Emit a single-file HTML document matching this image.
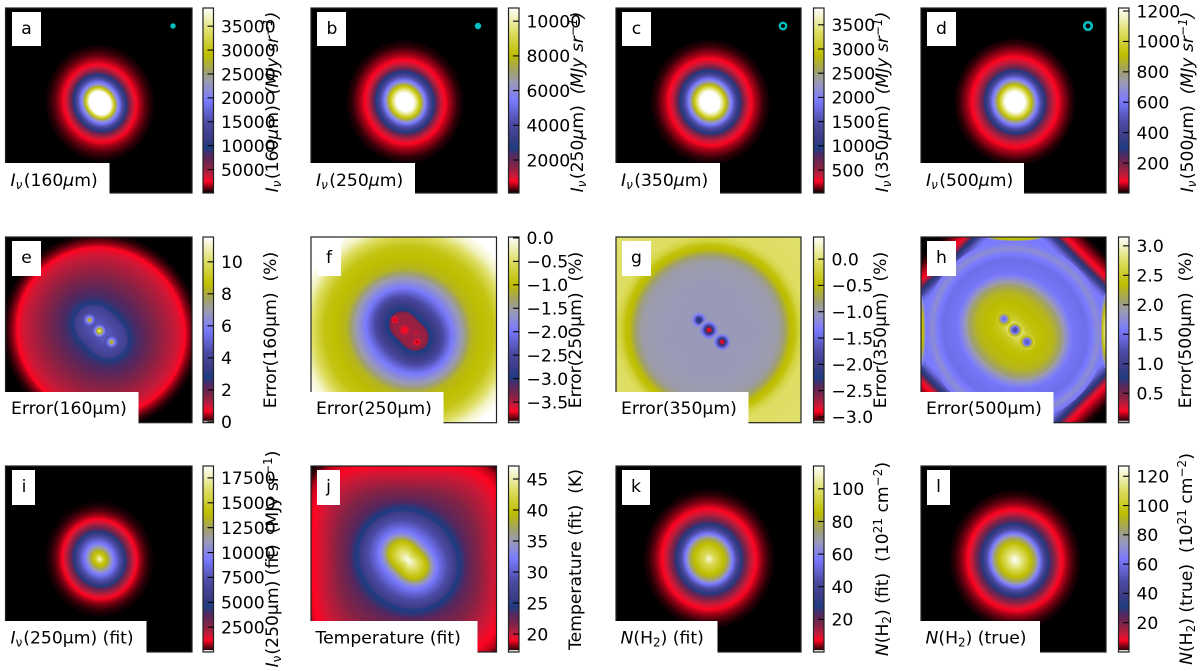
<!DOCTYPE html>
<html lang="en">
<head>
<meta charset="utf-8">
<title>Intensity, error and column density maps</title>
<style>
html,body{margin:0;padding:0;background:#fff;width:1200px;height:671px;overflow:hidden}
svg{display:block}
text{font-family:"DejaVu Sans","Liberation Sans",sans-serif;font-size:17.2px;fill:#000}
.tick{font-size:17.2px}
.frame{fill:none;stroke:#222;stroke-width:1.2}
.box{fill:#fff}
.i{font-style:italic}
</style>
</head>
<body>
<svg id="figure" xmlns="http://www.w3.org/2000/svg" width="1200" height="671" viewBox="0 0 1200 671">
<defs><linearGradient id="cmap" x1="0" y1="1" x2="0" y2="0"></linearGradient></defs>

<!-- ROW 1 -->
<g>
<svg id="map-a" x="5.5" y="8" width="186.5" height="185"></svg>
<rect class="frame" x="5.5" y="8" width="186.5" height="185"/>
<circle cx="173" cy="26" r="2.7" fill="#00bfbf"/>
<rect class="box" x="12" y="12" width="29" height="34"/>
<text x="26.5" y="34" text-anchor="middle">a</text>
<rect class="box" x="4.5" y="163" width="105" height="31"/>
<text x="10.5" y="186"><tspan class="i">I</tspan><tspan class="i" font-size="12" dy="3">ν</tspan><tspan dx="1.5" dy="-3">(160</tspan><tspan class="i">μ</tspan>m)</text>
<g id="cbar-a"></g>
<text transform="translate(278 102) rotate(-90)" text-anchor="middle"><tspan class="i">I</tspan><tspan class="i" font-size="12" dy="3">ν</tspan><tspan dx="1.5" dy="-3">(160</tspan><tspan class="i">μ</tspan>m)&#160;&#160;<tspan class="i">(MJy sr</tspan><tspan class="i" font-size="12" dy="-6">−1</tspan><tspan class="i" dy="6">)</tspan></text>
</g>

<g>
<svg id="map-b" x="311" y="8" width="186" height="185"></svg>
<rect class="frame" x="311" y="8" width="186" height="185"/>
<circle cx="478" cy="26" r="3.2" fill="#00bfbf"/>
<rect class="box" x="317" y="12" width="29" height="34"/>
<text x="332" y="34" text-anchor="middle">b</text>
<rect class="box" x="310" y="163" width="105" height="31"/>
<text x="316" y="186"><tspan class="i">I</tspan><tspan class="i" font-size="12" dy="3">ν</tspan><tspan dx="1.5" dy="-3">(250</tspan><tspan class="i">μ</tspan>m)</text>
<g id="cbar-b"></g>
<text transform="translate(583 102) rotate(-90)" text-anchor="middle"><tspan class="i">I</tspan><tspan class="i" font-size="12" dy="3">ν</tspan><tspan dx="1.5" dy="-3">(250</tspan><tspan class="i">μ</tspan>m)&#160;&#160;<tspan class="i">(MJy sr</tspan><tspan class="i" font-size="12" dy="-6">−1</tspan><tspan class="i" dy="6">)</tspan></text>
</g>

<g>
<svg id="map-c" x="616" y="8" width="185" height="185"></svg>
<rect class="frame" x="616" y="8" width="185" height="185"/>
<circle cx="783" cy="26" r="3.2" fill="none" stroke="#00bfbf" stroke-width="2.3"/>
<rect class="box" x="622" y="12" width="29" height="34"/>
<text x="636.5" y="34" text-anchor="middle">c</text>
<rect class="box" x="615" y="163" width="105" height="31"/>
<text x="621" y="186"><tspan class="i">I</tspan><tspan class="i" font-size="12" dy="3">ν</tspan><tspan dx="1.5" dy="-3">(350</tspan><tspan class="i">μ</tspan>m)</text>
<g id="cbar-c"></g>
<text transform="translate(888 102) rotate(-90)" text-anchor="middle"><tspan class="i">I</tspan><tspan class="i" font-size="12" dy="3">ν</tspan><tspan dx="1.5" dy="-3">(350</tspan><tspan class="i">μ</tspan>m)&#160;&#160;<tspan class="i">(MJy sr</tspan><tspan class="i" font-size="12" dy="-6">−1</tspan><tspan class="i" dy="6">)</tspan></text>
</g>

<g>
<svg id="map-d" x="921" y="8" width="185" height="185"></svg>
<rect class="frame" x="921" y="8" width="185" height="185"/>
<circle cx="1088" cy="26" r="3.8" fill="none" stroke="#00bfbf" stroke-width="2.7"/>
<rect class="box" x="927" y="12" width="29" height="34"/>
<text x="941.5" y="34" text-anchor="middle">d</text>
<rect class="box" x="920" y="163" width="104" height="31"/>
<text x="926" y="186"><tspan class="i">I</tspan><tspan class="i" font-size="12" dy="3">ν</tspan><tspan dx="1.5" dy="-3">(500</tspan><tspan class="i">μ</tspan>m)</text>
<g id="cbar-d"></g>
<text transform="translate(1193 102) rotate(-90)" text-anchor="middle"><tspan class="i">I</tspan><tspan class="i" font-size="12" dy="3">ν</tspan><tspan dx="1.5" dy="-3">(500</tspan><tspan class="i">μ</tspan>m)&#160;&#160;<tspan class="i">(MJy sr</tspan><tspan class="i" font-size="12" dy="-6">−1</tspan><tspan class="i" dy="6">)</tspan></text>
</g>

<!-- ROW 2 -->
<g>
<svg id="map-e" x="5.5" y="237" width="186.5" height="185.7"></svg>
<rect class="frame" x="5.5" y="237" width="186.5" height="185.7"/>
<rect class="box" x="12" y="241" width="29" height="35"/>
<text x="26.5" y="263" text-anchor="middle">e</text>
<rect class="box" x="4.5" y="392" width="134" height="32"/>
<text x="11" y="414">Error(160μm)</text>
<g id="cbar-e"></g>
<text transform="translate(276 330) rotate(-90)" text-anchor="middle">Error(160μm)&#160;&#160;(%)</text>
</g>

<g>
<svg id="map-f" x="311" y="237" width="185.5" height="185.7"></svg>
<rect class="frame" x="311" y="237" width="185.5" height="185.7"/>
<rect class="box" x="317" y="241" width="24" height="35"/>
<text x="329" y="263" text-anchor="middle">f</text>
<rect class="box" x="310" y="392" width="133.5" height="32"/>
<text x="316" y="414">Error(250μm)</text>
<g id="cbar-f"></g>
<text transform="translate(581 330) rotate(-90)" text-anchor="middle">Error(250μm)&#160;&#160;(%)</text>
</g>

<g>
<svg id="map-g" x="616" y="237" width="185" height="185.7"></svg>
<rect class="frame" x="616" y="237" width="185" height="185.7"/>
<rect class="box" x="622" y="241" width="29" height="35"/>
<text x="636.5" y="263" text-anchor="middle">g</text>
<rect class="box" x="615" y="392" width="133.5" height="32"/>
<text x="621" y="414">Error(350μm)</text>
<g id="cbar-g"></g>
<text transform="translate(886 330) rotate(-90)" text-anchor="middle">Error(350μm)&#160;&#160;(%)</text>
</g>

<g>
<svg id="map-h" x="921" y="237" width="185" height="185.7"></svg>
<rect class="frame" x="921" y="237" width="185" height="185.7"/>
<rect class="box" x="927" y="241" width="29" height="35"/>
<text x="941.5" y="263" text-anchor="middle">h</text>
<rect class="box" x="920" y="392" width="133.5" height="32"/>
<text x="926" y="414">Error(500μm)</text>
<g id="cbar-h"></g>
<text transform="translate(1191 330) rotate(-90)" text-anchor="middle">Error(500μm)&#160;&#160;(%)</text>
</g>

<!-- ROW 3 -->
<g>
<svg id="map-i" x="5.5" y="466" width="186.5" height="186"></svg>
<rect class="frame" x="5.5" y="466" width="186.5" height="186"/>
<rect class="box" x="12" y="470" width="23" height="35"/>
<text x="24" y="492" text-anchor="middle">i</text>
<rect class="box" x="4.5" y="621" width="142" height="32"/>
<text x="10.5" y="643.5"><tspan class="i">I</tspan><tspan font-size="12" dy="3">ν</tspan><tspan dx="1" dy="-3">(250μm) (fit)</tspan></text>
<g id="cbar-i"></g>
<text transform="translate(278 559) rotate(-90)" text-anchor="middle"><tspan class="i">I</tspan><tspan font-size="12" dy="3">ν</tspan><tspan dx="1" dy="-3">(250μm) (fit)&#160;&#160;(MJy sr</tspan><tspan font-size="12" dy="-6">−1</tspan><tspan dy="6">)</tspan></text>
</g>

<g>
<svg id="map-j" x="311" y="466" width="185.5" height="186"></svg>
<rect class="frame" x="311" y="466" width="185.5" height="186"/>
<rect class="box" x="317" y="470" width="23" height="35"/>
<text x="328.5" y="492" text-anchor="middle">j</text>
<rect class="box" x="310" y="621" width="167.5" height="32"/>
<text x="315.5" y="643.5">Temperature (fit)</text>
<g id="cbar-j"></g>
<text transform="translate(581 559.5) rotate(-90)" text-anchor="middle">Temperature (fit)&#160;&#160;(K)</text>
</g>

<g>
<svg id="map-k" x="616" y="466" width="185" height="186"></svg>
<rect class="frame" x="616" y="466" width="185" height="186"/>
<rect class="box" x="622" y="470" width="28" height="35"/>
<text x="636" y="492" text-anchor="middle">k</text>
<rect class="box" x="615" y="621" width="102.5" height="32"/>
<text x="620.5" y="643.5"><tspan class="i">N</tspan>(H<tspan font-size="12" dy="3">2</tspan><tspan dy="-3">) (fit)</tspan></text>
<g id="cbar-k"></g>
<text transform="translate(888 559) rotate(-90)" text-anchor="middle"><tspan class="i">N</tspan>(H<tspan font-size="12" dy="3">2</tspan><tspan dy="-3">) (fit)&#160;&#160;(10</tspan><tspan font-size="12" dy="-6">21</tspan><tspan dy="6"> cm</tspan><tspan font-size="12" dy="-6">−2</tspan><tspan dy="6">)</tspan></text>
</g>

<g>
<svg id="map-l" x="921" y="466" width="185" height="186"></svg>
<rect class="frame" x="921" y="466" width="185" height="186"/>
<rect class="box" x="927" y="470" width="23" height="35"/>
<text x="938.5" y="492" text-anchor="middle">l</text>
<rect class="box" x="920" y="621" width="120" height="32"/>
<text x="925.5" y="643.5"><tspan class="i">N</tspan>(H<tspan font-size="12" dy="3">2</tspan><tspan dy="-3">) (true)</tspan></text>
<g id="cbar-l"></g>
<text transform="translate(1192 559) rotate(-90)" text-anchor="middle"><tspan class="i">N</tspan>(H<tspan font-size="12" dy="3">2</tspan><tspan dy="-3">) (true)&#160;&#160;(10</tspan><tspan font-size="12" dy="-6">21</tspan><tspan dy="6"> cm</tspan><tspan font-size="12" dy="-6">−2</tspan><tspan dy="6">)</tspan></text>
</g>
</svg>

<script>
/* colour map */
const cmapFractions = [0, .015, .063, .09, .144, .2, .243, .3, .38, .5, .6, .656, .746, .87, 1];
const cmapReds   = [0, 60, 255, 205, 130, 85, 30, 60, 75, 122, 155, 160, 190, 222, 255];
const cmapGreens = [0, 0, 5, 25, 35, 40, 60, 60, 75, 122, 155, 160, 190, 222, 255];
const cmapBlues  = [0, 10, 35, 55, 70, 95, 130, 135, 165, 255, 180, 110, 0, 100, 255];

/* colour bar limits */
const limitsA = [100, 38800];
const limitsB = [100, 10760];
const limitsC = [25, 3847];
const limitsD = [3, 1220];
const limitsE = [-0.05, 11.55];
const limitsF = [-3.94, 0.02];
const limitsG = [-3.11, 0.42];
const limitsH = [0, 3.15];
const limitsI = [0, 18700];
const limitsJ = [17.1, 47.1];
const limitsK = [0, 114];
const limitsL = [0, 127];

/* colour bar ticks */
const ticksA = [5000, 10000, 15000, 20000, 25000, 30000, 35000];
const ticksB = [2000, 4000, 6000, 8000, 10000];
const ticksC = [500, 1000, 1500, 2000, 2500, 3000, 3500];
const ticksD = [200, 400, 600, 800, 1000, 1200];
const ticksE = [0, 2, 4, 6, 8, 10];
const ticksF = [-3.5, -3, -2.5, -2, -1.5, -1, -0.5, 0];
const ticksG = [-3, -2.5, -2, -1.5, -1, -0.5, 0];
const ticksH = [0.5, 1, 1.5, 2, 2.5, 3];
const ticksI = [2500, 5000, 7500, 10000, 12500, 15000, 17500];
const ticksJ = [20, 25, 30, 35, 40, 45];
const ticksK = [20, 40, 60, 80, 100];
const ticksL = [20, 40, 60, 80, 100, 120];

/* radial brightness profiles: distance from the core (map px) and value in the panel's unit */
const radiiA = [0, 11, 13, 15, 17, 20, 25, 27, 30, 33, 37, 41, 45, 50, 56];
const valuesA = [38800, 38800, 34156, 29125, 23320, 18676, 11710, 9000, 5905, 3970, 2422, 1648, 1050, 500, 100];
const radiiB = [0, 9, 12, 14, 16.5, 19, 23, 29, 32, 36, 40, 44, 48, 53, 60];
const valuesB = [10760, 10760, 9694, 8841, 7775, 6283, 4684, 2765, 1912, 1166, 793, 580, 420, 230, 100];
const radiiC = [0, 10, 13, 15, 17, 20, 24, 30, 33, 37, 41.5, 45, 49, 54, 61];
const valuesC = [3847, 3847, 3465, 3159, 2777, 2242, 1668, 980, 675, 407, 273, 197, 140, 72, 25];
const radiiD = [0, 10, 13, 17, 20, 24, 30, 33, 38, 43, 47, 51, 56, 62];
const valuesD = [1220, 1220, 1098, 904, 733, 551, 307, 210, 125, 82, 58, 40, 18, 3];
const radiiE = [0, 5, 15, 24, 26, 28, 35, 40, 48, 55, 65, 75, 80, 84, 87, 90, 95, 100];
const valuesE = [5.05, 4.82, 4.36, 3.78, 3.08, 2.73, 2.39, 2.27, 1.92, 1.63, 1.34, 1.05, 0.88, 0.7, 0.47, 0.3, 0.07, -0.05];
const radiiF = [0, 15, 18, 19, 21, 30, 43, 55, 63, 75, 85, 95, 105, 115, 140];
const valuesF = [-3.46, -3.43, -3.35, -2.99, -2.95, -2.63, -1.96, -1.48, -1.09, -0.97, -0.89, -0.57, -0.18, 0.02, 0.02];
const radiiG = [0, 50, 68, 73, 77, 81, 85, 90, 96, 140];
const valuesG = [-1.02, -1, -0.96, -0.86, -0.7, -0.5, -0.43, -0.18, -0.04, 0];
const radiiH = [0, 8, 12, 20, 30, 38, 46, 52, 58, 72, 78, 83, 87, 90];
const valuesH = [2.77, 2.68, 2.52, 2.39, 2.33, 2.27, 2.05, 1.76, 1.54, 1.48, 1.6, 1.76, 1.64, 1.58];
const radiiI = [0, 2, 5, 8, 11, 15, 20, 24, 26, 29, 33, 37, 41, 45, 50, 56];
const valuesI = [18700, 16830, 14590, 13460, 11590, 9350, 7480, 5610, 4490, 3180, 2060, 1215, 750, 410, 150, 0];
const radiiJ = [0, 3, 8, 12, 18, 21, 25, 30, 40, 48, 50, 60, 70, 85, 100, 112, 122, 128, 135];
const valuesJ = [47.1, 45.6, 43.5, 41.7, 39.3, 36.9, 33.6, 31.5, 28.5, 26.1, 24.6, 23.1, 22.05, 20.85, 19.8, 19.05, 18.45, 17.55, 17.1];
const radiiK = [0, 2, 6, 12, 17, 20, 24, 28, 31, 33, 37, 42, 47, 51, 55, 61, 67];
const valuesK = [114, 106, 97, 89, 82, 74, 57, 43, 34, 27, 19, 11.4, 7.4, 5.1, 3.2, 1.1, 0];
const radiiL = [0, 3, 8, 13, 18, 21, 25, 29, 32, 34, 38, 43, 47, 51, 55, 61, 67];
const valuesL = [127, 122, 112, 102, 91, 83, 64, 48, 38, 30, 22, 12.7, 8.3, 5.7, 3.6, 1.3, 0];

/* compact source residuals */
const spotRadiiE1 = [0, 1.5, 3, 5, 7];
const spotValuesE1 = [9, 8.2, 6.5, 5, 4.4];
const spotRadiiE2 = [0, 1.5, 3, 5, 7];
const spotValuesE2 = [11.5, 10, 8, 6, 4.6];
const spotRadiiF1 = [0, 1.5, 3, 4.5];
const spotValuesF1 = [-3.94, -3.7, -3.62, -3.42];
const spotRadiiF2 = [0, 3, 6];
const spotValuesF2 = [-3.7, -3.66, -3.46];
const spotRadiiF3 = [0, 2, 4];
const spotValuesF3 = [-3.86, -3.7, -3.54];
const spotRadiiF4 = [0, 3];
const spotValuesF4 = [-3.66, -3.46];
const spotRadiiG1 = [0, 2.5, 4, 6, 8.5];
const spotValuesG1 = [-2.33, -2.16, -1.7, -1.27, -1.02];
const spotRadiiG2 = [0, 2, 3.5, 5, 7, 10];
const spotValuesG2 = [-3, -2.86, -2.4, -1.87, -1.42, -1.02];
const spotRadiiG3 = [0, 2, 3.5, 5, 7, 9];
const spotValuesG3 = [-3, -2.83, -2.23, -1.77, -1.35, -1.02];
const spotRadiiH1 = [0, 2.5, 4, 6, 7.5];
const spotValuesH1 = [1.45, 1.58, 1.89, 2.4, 2.5];
const spotRadiiH2 = [0, 3, 4.5, 6, 8];
const spotValuesH2 = [1.13, 1.32, 1.73, 2.27, 2.77];
const spotRadiiH3 = [0, 3, 4.5, 6, 8];
const spotValuesH3 = [1.32, 1.42, 1.83, 2.4, 2.6];

/* panel h outer structure */
const cornerDistancesH = [85, 90, 95, 100, 103, 108, 115, 120, 135];
const cornerValuesH = [1.58, 1.32, 0.79, 0.32, 0.2, 0.13, 0.03, 0, 0];
const edgeRadiiLeftH = [0, 20, 30, 36];
const edgeValuesLeftH = [2.46, 2.33, 1.89, 1.58];
const edgeRadiiRightH = [0, 20, 30, 38];
const edgeValuesRightH = [3, 2.52, 2.05, 1.58];
const edgeRadiiTopH = [0, 22, 30];
const edgeValuesTopH = [2.46, 2.33, 1.58];

const round = {cx:94, cy:94, sx:1, sy:1, e:0, eR:30, pIn:2, pOut:2, p0:0, p1:1};
function shapeOf(over){ return Object.assign({}, round, over); }

const panels = [
 {id:'a', left:5.5,  top:8,  w:186.5, h:185, limits:limitsA, ticks:ticksA, radii:radiiA, values:valuesA, shape:shapeOf({cx:94.5,cy:95,sy:1.07,e:.13,eR:25}), dec:0, tip:null},
 {id:'b', left:311,  top:8,  w:186, h:185, limits:limitsB, ticks:ticksB, radii:radiiB, values:valuesB, shape:shapeOf({cx:94,cy:94,sy:1.05,e:.08,eR:25}), dec:0, tip:null},
 {id:'c', left:616,  top:8,  w:185, h:185, limits:limitsC, ticks:ticksC, radii:radiiC, values:valuesC, shape:shapeOf({cx:94,cy:94,sy:1.05,e:.06,eR:25}), dec:0, tip:null},
 {id:'d', left:921,  top:8,  w:185, h:185, limits:limitsD, ticks:ticksD, radii:radiiD, values:valuesD, shape:shapeOf({cx:94,cy:94,sy:1.05,e:.04,eR:25}), dec:0, tip:null},
 {id:'e', left:5.5,  top:237,w:186.5,h:185.7,limits:limitsE, ticks:ticksE, radii:radiiE, values:valuesE, shape:shapeOf({cx:95.5,cy:94.5,e:.5,eR:25}), dec:0, tip:'#aaa'},
 {id:'f', left:311,  top:237,w:185.5,h:185.7,limits:limitsF, ticks:ticksF, radii:radiiF, values:valuesF, shape:shapeOf({cx:98,cy:94,e:.6,eR:20}), dec:1, tip:'#aaa'},
 {id:'g', left:616,  top:237,w:185,h:185.7,limits:limitsG, ticks:ticksG, radii:radiiG, values:valuesG, shape:shapeOf({cx:94,cy:93}), dec:1, tip:'#aaa'},
 {id:'h', left:921,  top:237,w:185,h:185.7,limits:limitsH, ticks:ticksH, radii:radiiH, values:valuesH, shape:shapeOf({cx:94,cy:94,e:.5,eR:25}), dec:1, tip:'#aaa'},
 {id:'i', left:5.5,  top:466,w:186.5,h:186,limits:limitsI, ticks:ticksI, radii:radiiI, values:valuesI, shape:shapeOf({cx:94,cy:93,sy:1.07,e:.08,eR:25}), dec:0, tip:'#ddd'},
 {id:'j', left:311,  top:466,w:185.5,h:186,limits:limitsJ, ticks:ticksJ, radii:radiiJ, values:valuesJ, shape:shapeOf({cx:97,cy:94,e:.5,eR:22,pOut:4,p0:55,p1:110}), dec:0, tip:'#ddd'},
 {id:'k', left:616,  top:466,w:185,h:186,limits:limitsK, ticks:ticksK, radii:radiiK, values:valuesK, shape:shapeOf({cx:93,cy:93,sy:1.07,e:.05,eR:25}), dec:0, tip:'#ddd'},
 {id:'l', left:921,  top:466,w:185,h:186,limits:limitsL, ticks:ticksL, radii:radiiL, values:valuesL, shape:shapeOf({cx:94,cy:94,sy:1.07,e:.08,eR:25}), dec:0, tip:'#ddd'}
];

const NS = 'http://www.w3.org/2000/svg';
const COLORBAR_OFFSET = 197.5, COLORBAR_WIDTH = 10.5;

function interpolate(xs, ys, x){
  if (x <= xs[0]) return ys[0];
  for (let i = 1; i < xs.length; i++){
    if (x <= xs[i]){
      const f = (x - xs[i-1]) / (xs[i] - xs[i-1]);
      return ys[i-1] + f * (ys[i] - ys[i-1]);
    }
  }
  return ys[ys.length-1];
}
function colorFor(value, limits){
  const t = Math.max(0, Math.min(1, (value - limits[0]) / (limits[1] - limits[0])));
  const r = interpolate(cmapFractions, cmapReds, t);
  const g = interpolate(cmapFractions, cmapGreens, t);
  const b = interpolate(cmapFractions, cmapBlues, t);
  return 'rgb(' + Math.round(r) + ',' + Math.round(g) + ',' + Math.round(b) + ')';
}
function contourPoints(shape, r){
  const n = 72, pts = [];
  const span = Math.max(0, Math.min(1, (r - shape.p0) / (shape.p1 - shape.p0)));
  const p = shape.pIn + (shape.pOut - shape.pIn) * span;
  const big = r * Math.pow(2 * Math.pow(Math.SQRT1_2, p), 1 / p);
  for (let i = 0; i < n; i++){
    const a = 2 * Math.PI * i / n;
    const c = Math.cos(a), s = Math.sin(a);
    const base = big / Math.pow(Math.pow(Math.abs(c), p) + Math.pow(Math.abs(s), p), 1 / p);
    const stretch = 1 + shape.e * Math.exp(-r / shape.eR) * Math.cos(2 * (a - Math.PI / 4));
    pts.push((shape.cx + shape.sx * base * stretch * c).toFixed(1) + ',' + (shape.cy + shape.sy * base * stretch * s).toFixed(1));
  }
  return pts.join(' ');
}
/* paints nested iso-value contours, outermost first */
function drawContours(host, radii, values, limits, shape, name){
  const step = 0.75;
  const rMax = radii[radii.length - 1];
  for (let r = rMax; r > 0; r -= step){
    const el = document.createElementNS(NS, 'polygon');
    
    
    el.setAttribute('points', contourPoints(shape, r));
    el.setAttribute('fill', colorFor(interpolate(radii, values, r), limits));
    host.appendChild(el);
  }
}
function addBackground(host, color, id){
  const el = document.createElementNS(NS, 'rect');
  
  
  el.setAttribute('width', '200');
  el.setAttribute('height', '200');
  el.setAttribute('fill', color);
  host.appendChild(el);
}
function tickText(v, dec){
  const s = dec ? Math.abs(v).toFixed(dec) : String(Math.abs(v));
  return (v < 0 ? '\u2212' : '') + s;
}
function drawColorbar(p){
  const host = document.getElementById('cbar-' + p.id);
  const x = p.left + COLORBAR_OFFSET, y = p.top, h = p.h;
  const bar = document.createElementNS(NS, 'rect');
  
  
  bar.setAttribute('x', x);
  bar.setAttribute('y', y);
  bar.setAttribute('width', COLORBAR_WIDTH);
  bar.setAttribute('height', h);
  bar.setAttribute('fill', 'url(#cmap)');
  host.appendChild(bar);
  if (p.tip){
    const tip = document.createElementNS(NS, 'rect');
    
    
    tip.setAttribute('x', x);
    tip.setAttribute('y', y + h - 2);
    tip.setAttribute('width', COLORBAR_WIDTH);
    tip.setAttribute('height', 2);
    tip.setAttribute('fill', p.tip);
    host.appendChild(tip);
  }
  const border = document.createElementNS(NS, 'rect');
  
  
  border.setAttribute('class', 'frame');
  border.setAttribute('x', x);
  border.setAttribute('y', y);
  border.setAttribute('width', COLORBAR_WIDTH);
  border.setAttribute('height', h);
  host.appendChild(border);
  const yOf = v => y + h - (v - p.limits[0]) / (p.limits[1] - p.limits[0]) * h;
  p.ticks.forEach(v => {
    const ty = yOf(v);
    const tick = document.createElementNS(NS, 'line');
    
    
    tick.setAttribute('x1', x + COLORBAR_WIDTH - 6);
    tick.setAttribute('x2', x + COLORBAR_WIDTH);
    tick.setAttribute('y1', ty);
    tick.setAttribute('y2', ty);
    tick.setAttribute('stroke', '#000');
    tick.setAttribute('stroke-width', '1.1');
    host.appendChild(tick);
    const label = document.createElementNS(NS, 'text');
    
    
    label.setAttribute('class', 'tick');
    label.setAttribute('x', x + COLORBAR_WIDTH + 7.5);
    label.setAttribute('y', ty + 6.3);
    label.textContent = tickText(v, p.dec);
    host.appendChild(label);
  });
}

/* shared colour ramp for the colour bars */
const ramp = document.getElementById('cmap');
cmapFractions.forEach((f, i) => {
  const stop = document.createElementNS(NS, 'stop');
  stop.setAttribute('offset', f);
  stop.setAttribute('stop-color', 'rgb(' + cmapReds[i] + ',' + cmapGreens[i] + ',' + cmapBlues[i] + ')');
  ramp.appendChild(stop);
});

panels.forEach(p => {
  const host = document.getElementById('map-' + p.id);
  if (p.id === 'h'){
    addBackground(host, colorFor(0, p.limits), p.id);
    drawContours(host, cornerDistancesH, cornerValuesH, p.limits, shapeOf({cx:94,cy:94,pIn:1,pOut:1}), 'map-h-corner');
    /* the contour loop stops at the innermost listed distance; fill inside it */
    drawContours(host, [0, 85], [1.58, 1.58], p.limits, shapeOf({cx:94,cy:94,pIn:1,pOut:1}), 'map-h-corner-fill');
    drawContours(host, p.radii, p.values, p.limits, p.shape, 'map-h');
    drawContours(host, edgeRadiiLeftH, edgeValuesLeftH, p.limits, shapeOf({cx:0,cy:94,sx:.13}), 'map-h-left-edge');
    drawContours(host, edgeRadiiRightH, edgeValuesRightH, p.limits, shapeOf({cx:185,cy:94,sx:.15}), 'map-h-right-edge');
    drawContours(host, edgeRadiiTopH, edgeValuesTopH, p.limits, shapeOf({cx:94,cy:0,sy:.14}), 'map-h-top-edge');
    drawContours(host, edgeRadiiTopH, edgeValuesTopH, p.limits, shapeOf({cx:94,cy:186,sy:.14}), 'map-h-bottom-edge');
  } else {
    addBackground(host, colorFor(p.values[p.values.length - 1], p.limits), p.id);
    drawContours(host, p.radii, p.values, p.limits, p.shape, 'map-' + p.id);
  }
  drawColorbar(p);
});

/* compact spots on top of the error maps */
const limE = limitsE, limF = limitsF, limG = limitsG, limH = limitsH;
const mapE = document.getElementById('map-e');
drawContours(mapE, spotRadiiE1, spotValuesE1, limE, shapeOf({cx:84,cy:83}), 'map-e-spot');
drawContours(mapE, spotRadiiE2, spotValuesE2, limE, shapeOf({cx:94,cy:94}), 'map-e-spot');
drawContours(mapE, spotRadiiE1, spotValuesE1, limE, shapeOf({cx:106,cy:105}), 'map-e-spot');
const mapF = document.getElementById('map-f');
drawContours(mapF, spotRadiiF2, spotValuesF2, limF, shapeOf({cx:93.5,cy:93}), 'map-f-spot');
drawContours(mapF, spotRadiiF4, spotValuesF4, limF, shapeOf({cx:105,cy:96}), 'map-f-spot');
drawContours(mapF, spotRadiiF3, spotValuesF3, limF, shapeOf({cx:106,cy:105}), 'map-f-spot');
drawContours(mapF, spotRadiiF1, spotValuesF1, limF, shapeOf({cx:84,cy:83}), 'map-f-spot');
const mapG = document.getElementById('map-g');
drawContours(mapG, spotRadiiG1, spotValuesG1, limG, shapeOf({cx:83,cy:83}), 'map-g-spot');
drawContours(mapG, spotRadiiG2, spotValuesG2, limG, shapeOf({cx:93,cy:93}), 'map-g-spot');
drawContours(mapG, spotRadiiG3, spotValuesG3, limG, shapeOf({cx:106,cy:105}), 'map-g-spot');
const mapH = document.getElementById('map-h');
drawContours(mapH, spotRadiiH1, spotValuesH1, limH, shapeOf({cx:83,cy:82}), 'map-h-spot');
drawContours(mapH, spotRadiiH2, spotValuesH2, limH, shapeOf({cx:94,cy:93}), 'map-h-spot');
drawContours(mapH, spotRadiiH3, spotValuesH3, limH, shapeOf({cx:106,cy:105}), 'map-h-spot');
</script>
</body>
</html>
